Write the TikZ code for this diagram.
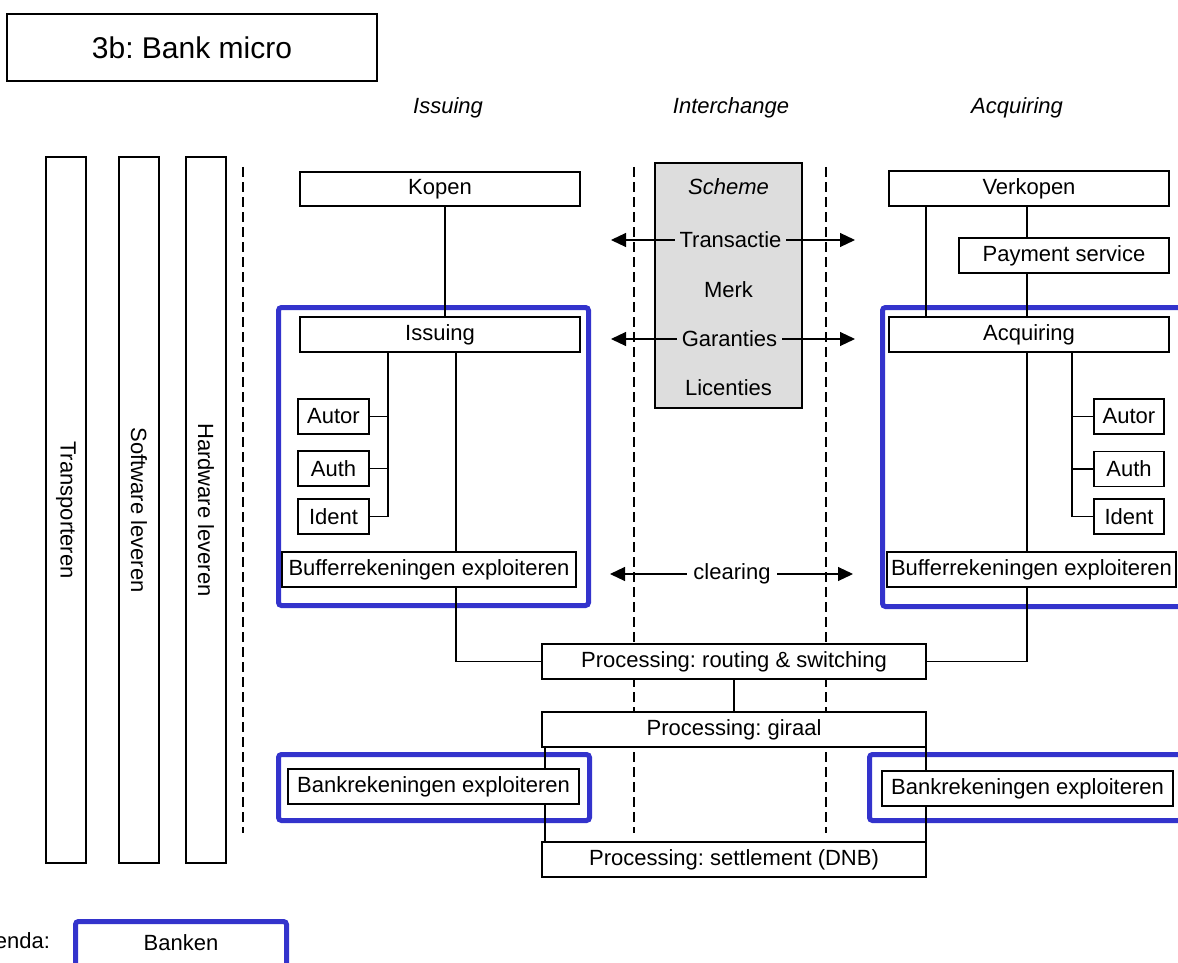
\documentclass[tikz,border=0pt]{standalone}
\usepackage{fontspec}
\setmainfont{Liberation Sans}
\usetikzlibrary{arrows.meta,calc}
\frenchspacing
\definecolor{bankblue}{RGB}{51,51,204}
\definecolor{schemegrey}{RGB}{221,221,221}
\newcommand{\lab}{\fontsize{22}{26}\selectfont}
\newcommand{\ttl}{\fontsize{30}{36}\selectfont}
\begin{document}
\begin{tikzpicture}[x=1pt,y=-1pt,
  every node/.style={inner sep=0pt, outer sep=0pt},
  box/.style={draw, fill=white, line width=1.2pt, minimum height=35pt, font=\lab},
  sidebar/.style={draw, fill=white, line width=1.2pt, minimum width=40pt, minimum height=706pt},
  vtext/.style={font=\lab, rotate=-90},
  link/.style={line width=1.1pt},
  divider/.style={line width=2.8pt, dash pattern=on 10pt off 5pt},
  bankframe/.style={draw=bankblue, line width=5pt, rounded corners=3pt},
  flow/.style={line width=1.1pt, {Triangle[length=15pt,width=14pt]}-{Triangle[length=15pt,width=14pt]}},
  head/.style={font=\lab\itshape},
  schemetext/.style={font=\lab, fill=schemegrey, inner xsep=5pt, inner ysep=2pt}]

\useasboundingbox (0,0) rectangle (1178,963);
\clip (0,0) rectangle (1178,963);

% title
\node[box, minimum width=370pt, minimum height=67pt, font=\ttl] (title) at (192,47.5) {3b: Bank micro};

% column headings
\node[head] (hIss) at (448,108) {Issuing};
\node[head] (hInt) at (731,108) {Interchange};
\node[head] (hAcq) at (1017,108) {Acquiring};

% supporting roles
\node[sidebar] (trans) at (66,510) {};
\node[vtext] at (trans.center) {Transporteren};
\node[sidebar] (soft) at (139,510) {};
\node[vtext] at (soft.center) {Software leveren};
\node[sidebar] (hard) at (206,510) {};
\node[vtext] at (hard.center) {Hardware leveren};

% separators
\coordinate (d1t) at (243,167); \coordinate (d1b) at (243,833);
\coordinate (d2t) at (634,167); \coordinate (d2b) at (634,833);
\coordinate (d3t) at (826,167); \coordinate (d3b) at (826,833);
\draw[divider] (d1t) -- (d1b);
\draw[divider] (d2t) -- (d2b);
\draw[divider] (d3t) -- (d3b);

% bank frames
\draw[bankframe] (278.5,307.5) rectangle (588.5,605.5);
\draw[bankframe] (882.5,307.5) rectangle (1195,606.5);
\draw[bankframe] (278.5,754.5) rectangle (589.5,820.5);
\draw[bankframe] (869.5,754.5) rectangle (1195,820.5);

% scheme
\node[draw, fill=schemegrey, line width=1.2pt, minimum width=147pt, minimum height=245pt] (scheme) at (728.5,285.5) {};
\node[font=\lab\itshape] (sch) at (728.5,187) {Scheme};
\coordinate (tL) at (611,240); \coordinate (tR) at (855,240);
\coordinate (gL) at (611,339); \coordinate (gR) at (855,339);
\draw[flow] (tL) -- (tR);
\draw[flow] (gL) -- (gR);
\node[schemetext] (trx) at (730.5,240) {Transactie};
\node[font=\lab] (merk) at (728.5,290) {Merk};
\node[schemetext] (gar) at (729.5,339) {Garanties};
\node[font=\lab] (lic) at (728.5,388) {Licenties};

% clearing
\coordinate (cL) at (610,574); \coordinate (cR) at (853,574);
\draw[flow] (cL) -- (cR);
\node[font=\lab, fill=white, inner xsep=6pt, inner ysep=2pt] (clr) at (732,574) {clearing};

% issuing side
\node[box, minimum width=280pt, minimum height=34pt] (kopen) at (440,189) {Kopen};
\node[box, minimum width=280pt] (issuing) at (440,334.5) {Issuing};
\node[box, minimum width=71pt] (autorL) at (333.5,416.5) {Autor};
\node[box, minimum width=71pt] (authL) at (333.5,468.5) {Auth};
\node[box, minimum width=71pt] (identL) at (333.5,516.5) {Ident};
\node[box, minimum width=294pt] (bufL) at (429,569.5) {Bufferrekeningen exploiteren};
\node[box, minimum width=291pt] (bankL) at (433.5,786.5) {Bankrekeningen exploiteren};

% acquiring side
\node[box, minimum width=280pt] (verkopen) at (1029,188.5) {Verkopen};
\node[box, minimum width=210pt] (payment) at (1064,255.5) {Payment service};
\node[box, minimum width=280pt] (acquiring) at (1029,334.5) {Acquiring};
\node[box, minimum width=70pt] (autorR) at (1129,416.5) {Autor};
\node[box, minimum width=70pt] (authR) at (1129,469) {Auth};
\node[box, minimum width=70pt] (identR) at (1129,516.5) {Ident};
\node[box, minimum width=289pt] (bufR) at (1031.5,569.5) {Bufferrekeningen exploiteren};
\node[box, minimum width=291pt] (bankR) at (1027.5,788.5) {Bankrekeningen exploiteren};

% processing chain
\node[box, minimum width=384pt] (routing) at (734,661.5) {Processing: routing \& switching};
\node[box, minimum width=384pt] (giraal) at (734,729.5) {Processing: giraal};
\node[box, minimum width=384pt] (settle) at (734,859.5) {Processing: settlement (DNB)};

% issuing connectors
\draw[link] ([xshift=5pt]kopen.south) -- ([xshift=5pt]issuing.north);
\coordinate (tl) at ([xshift=-52pt]issuing.south);
\draw[link] (tl) |- (identL.east);
\draw[link] (autorL.east) -- (autorL.east -| tl);
\draw[link] (authL.east) -- (authL.east -| tl);
\coordinate (il) at ([xshift=16pt]issuing.south);
\draw[link] (il) -- (il |- bufL.north);
\draw[link] (il |- bufL.south) |- (routing.west);

% acquiring connectors
\draw[link] ([xshift=-103pt]verkopen.south) -- ([xshift=-103pt]acquiring.north);
\coordinate (al) at ([xshift=-2pt]acquiring.north);
\draw[link] (al |- verkopen.south) -- (al |- payment.north);
\draw[link] (al |- payment.south) -- (al);
\draw[link] (al |- acquiring.south) -- (al |- bufR.north);
\draw[link] (al |- bufR.south) |- (routing.east);
\coordinate (tr) at ([xshift=43pt]acquiring.south);
\draw[link] (tr) |- (identR.west);
\draw[link] (autorR.west) -- (autorR.west -| tr);
\draw[link] (authR.west) -- (authR.west -| tr);

% processing connectors
\draw[link] (routing.south) -- (giraal.north);
\coordinate (gl) at ([xshift=3pt]giraal.south west);
\draw[link] (gl) -- (gl |- bankL.north);
\draw[link] (gl |- bankL.south) -- (gl |- settle.north);
\draw[link] (giraal.south east) -- (giraal.south east |- bankR.north);
\draw[link] (settle.north east |- bankR.south) -- (settle.north east);

% legend
\node[font=\lab, anchor=east] (leg) at (50,943) {Legenda:};
\draw[bankframe] (75.5,921.5) rectangle (286.5,1000);
\node[font=\lab] (legB) at (181,943) {Banken};
\end{tikzpicture}
\end{document}
